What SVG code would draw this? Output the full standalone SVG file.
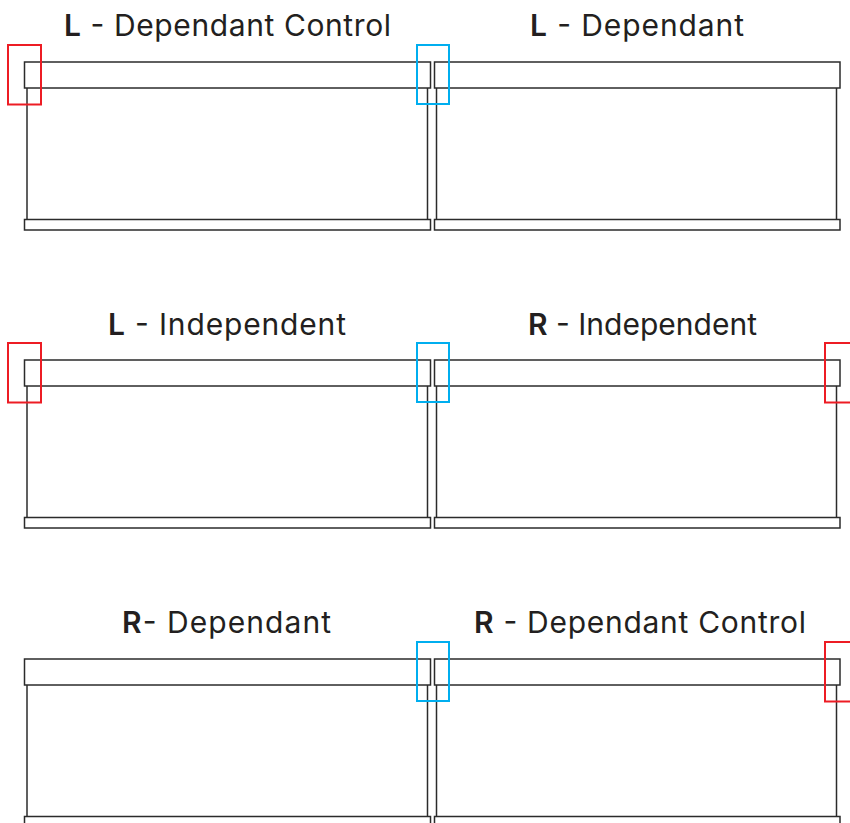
<svg xmlns="http://www.w3.org/2000/svg" width="850" height="823" viewBox="0 0 850 823">
<style>
.bx{fill:none;stroke:#2b2b2b;stroke-width:1.5}
.ln{stroke:#2b2b2b;stroke-width:1.5}
.red{fill:none;stroke:#ed1c24;stroke-width:2}
.blue{fill:none;stroke:#00aeef;stroke-width:2}
.t{font-family:Inter,"Liberation Sans",sans-serif;font-size:30px;fill:#231f20;text-anchor:middle}
.b{font-weight:600}
</style>
<defs>
<g id="unit">
<rect class="bx" x="24.5" y="62" width="406" height="26"/>
<line class="ln" x1="27" y1="88" x2="27" y2="219.5"/>
<line class="ln" x1="427.5" y1="88" x2="427.5" y2="219.5"/>
<rect class="bx" x="24.5" y="219.5" width="406" height="10.5"/>
<rect class="bx" x="434.5" y="62" width="405.5" height="26"/>
<line class="ln" x1="436.5" y1="88" x2="436.5" y2="219.5"/>
<line class="ln" x1="836.5" y1="88" x2="836.5" y2="219.5"/>
<rect class="bx" x="434.5" y="219.5" width="405.5" height="10.5"/>
</g>
</defs>
<g id="row1">
<use href="#unit"/>
<text class="t" x="227.5" y="36" textLength="327"><tspan class="b">L</tspan> - Dependant Control</text>
<text class="t" x="637" y="36" textLength="214"><tspan class="b">L</tspan> - Dependant</text>
<rect class="red" x="8" y="45" width="33" height="59.5"/>
<rect class="blue" x="417" y="45" width="32" height="59"/>
</g>
<g id="row2" transform="translate(0,298)">
<use href="#unit"/>
<text class="t" x="227" y="37" textLength="238"><tspan class="b">L</tspan> - Independent</text>
<text class="t" x="642.5" y="37" textLength="229"><tspan class="b">R</tspan> - Independent</text>
<rect class="red" x="8" y="45" width="33" height="59.5"/>
<rect class="blue" x="417" y="45" width="32" height="59"/>
<rect class="red" x="825" y="45" width="40" height="59.5"/>
</g>
<g id="row3" transform="translate(0,597)">
<use href="#unit"/>
<text class="t" x="226.5" y="36" textLength="209"><tspan class="b">R</tspan>- Dependant</text>
<text class="t" x="640" y="36" textLength="332"><tspan class="b">R</tspan> - Dependant Control</text>
<rect class="blue" x="417" y="45" width="32" height="59"/>
<rect class="red" x="825" y="45" width="40" height="59.5"/>
</g>
</svg>
